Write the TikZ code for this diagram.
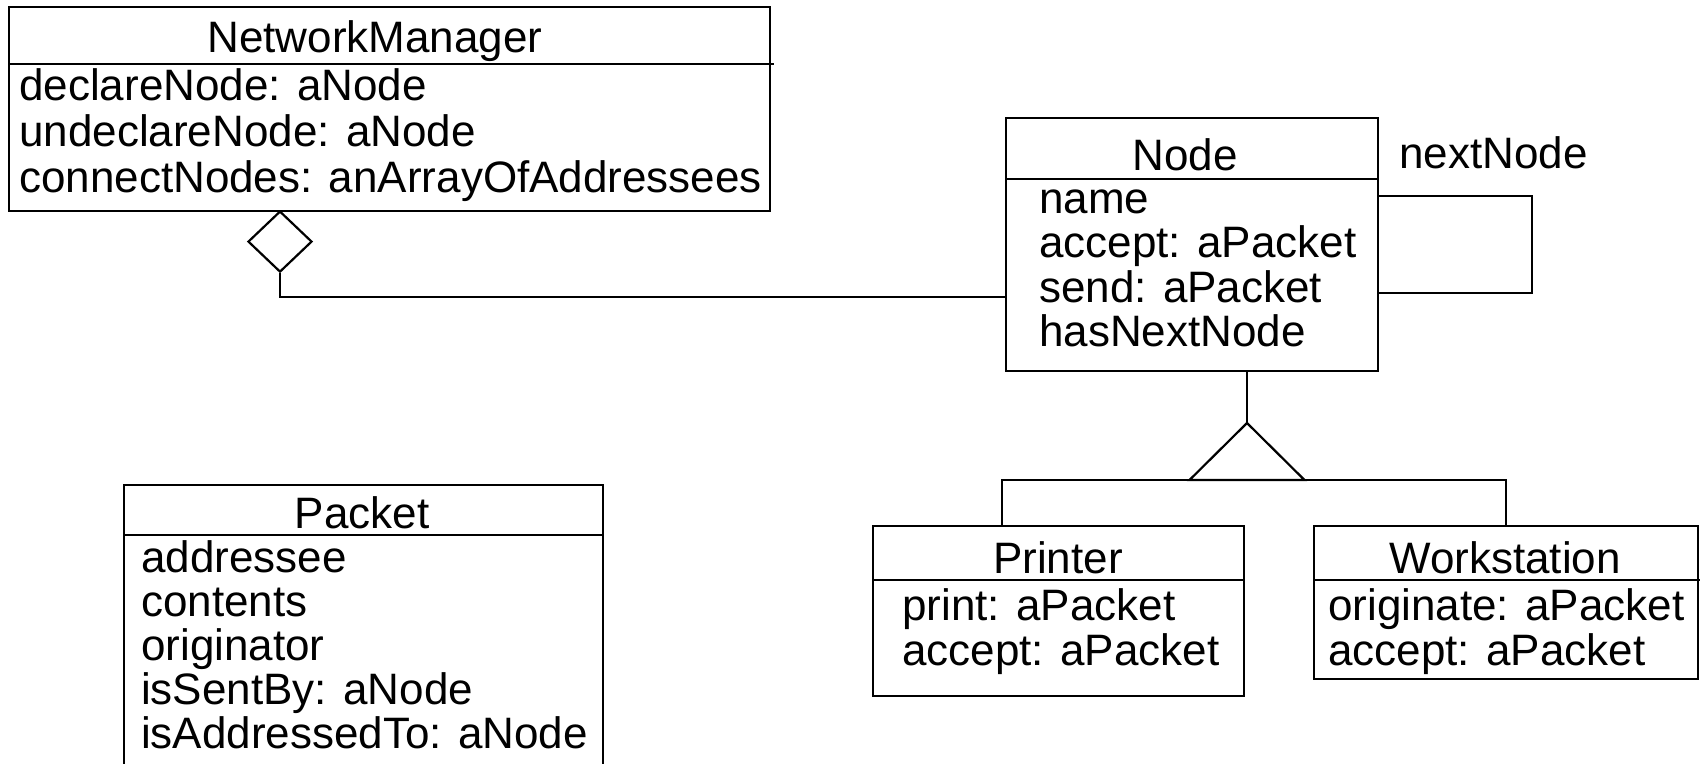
\documentclass[tikz,border=0pt]{standalone}
\usepackage{fontspec}
\setmainfont{Liberation Sans}
\usetikzlibrary{shapes.geometric}

\tikzset{
  umlbox/.style={draw, line width=2.2pt, rectangle, inner sep=0pt, anchor=north west},
  umltitle/.style={anchor=base, inner sep=0pt},
  umlrow/.style={anchor=base west, inner sep=0pt},
  aggr/.style={draw, line width=2.2pt, diamond, inner sep=0pt, minimum width=64pt, minimum height=61pt, anchor=north},
  conn/.style={line width=2.2pt},
}

\begin{document}
\begin{tikzpicture}[x=1pt, y=-1pt, font=\fontsize{44}{46}\selectfont]
  \useasboundingbox (0,0) rectangle (1700,763);
  \clip (0,0) rectangle (1700,763);

  % NetworkManager
  \node[umlbox, minimum width=761pt, minimum height=204pt] (nm) at (8,6) {};
  \draw[conn] ([yshift=-58pt]nm.north west) -- ++(766,0);
  \node[umltitle] (nmtitle) at (375,52) {NetworkManager};
  \foreach \t [count=\i] in {declareNode: aNode, undeclareNode: aNode, connectNodes: anArrayOfAddressees}
    \node[umlrow] (nmrow\i) at (19,{100+46*(\i-1)}) {\t};

  % Node
  \node[umlbox, minimum width=372pt, minimum height=253pt] (nodecls) at (1005,117) {};
  \draw[conn] ([yshift=-62pt]nodecls.north west) -- ([yshift=-62pt]nodecls.north east);
  \node[umltitle] (nodetitle) at (1185,170) {Node};
  \foreach \t [count=\i] in {name, accept: aPacket, send: aPacket, hasNextNode}
    \node[umlrow] (noderow\i) at (1039,{213+44.5*(\i-1)}) {\t};
  \node[umlrow] (nextlbl) at (1399,168) {nextNode};
  \draw[conn] ([yshift=-79pt]nodecls.north east) -- ++(153,0) |- ([yshift=-176pt]nodecls.north east);

  % Printer
  \node[umlbox, minimum width=371pt, minimum height=170pt] (printer) at (872,525) {};
  \draw[conn] ([yshift=-55pt]printer.north west) -- ([yshift=-55pt]printer.north east);
  \node[umltitle] (printertitle) at (1058,573) {Printer};
  \foreach \t [count=\i] in {print: aPacket, accept: aPacket}
    \node[umlrow] (printerrow\i) at (902,{620+45*(\i-1)}) {\t};

  % Workstation
  \node[umlbox, minimum width=384pt, minimum height=153pt] (wks) at (1313,525) {};
  \draw[conn] ([yshift=-55pt]wks.north west) -- ++(400,0);
  \node[umltitle] (wkstitle) at (1505,573) {Workstation};
  \foreach \t [count=\i] in {originate: aPacket, accept: aPacket}
    \node[umlrow] (wksrow\i) at (1328,{620+45*(\i-1)}) {\t};

  % Packet
  \node[umlbox, minimum width=479pt, minimum height=320pt] (packet) at (123,484) {};
  \draw[conn] ([yshift=-51pt]packet.north west) -- ++(481,0);
  \node[umltitle] (packettitle) at (362,528) {Packet};
  \foreach \t [count=\i] in {addressee, contents, originator, isSentBy: aNode, isAddressedTo: aNode}
    \node[umlrow] (packetrow\i) at (141,{572+44*(\i-1)}) {\t};

  % aggregation NetworkManager -- Node
  \node[aggr] (agg) at (280,210) {};
  \draw[conn] (agg.south) |- ([yshift=-52.5pt]nodecls.west);

  % generalization Node <- Printer, Workstation
  \coordinate (genapex) at (1247,423);
  \draw[conn] (nodecls.south -| genapex) -- (genapex);
  \draw[conn] (genapex) -- ++(-57.5,57) -- ++(115,0) -- cycle;
  \draw[conn] ([xshift=-57pt]printer.north) -- ++(0,-45) -| (wks.north);
\end{tikzpicture}
\end{document}
